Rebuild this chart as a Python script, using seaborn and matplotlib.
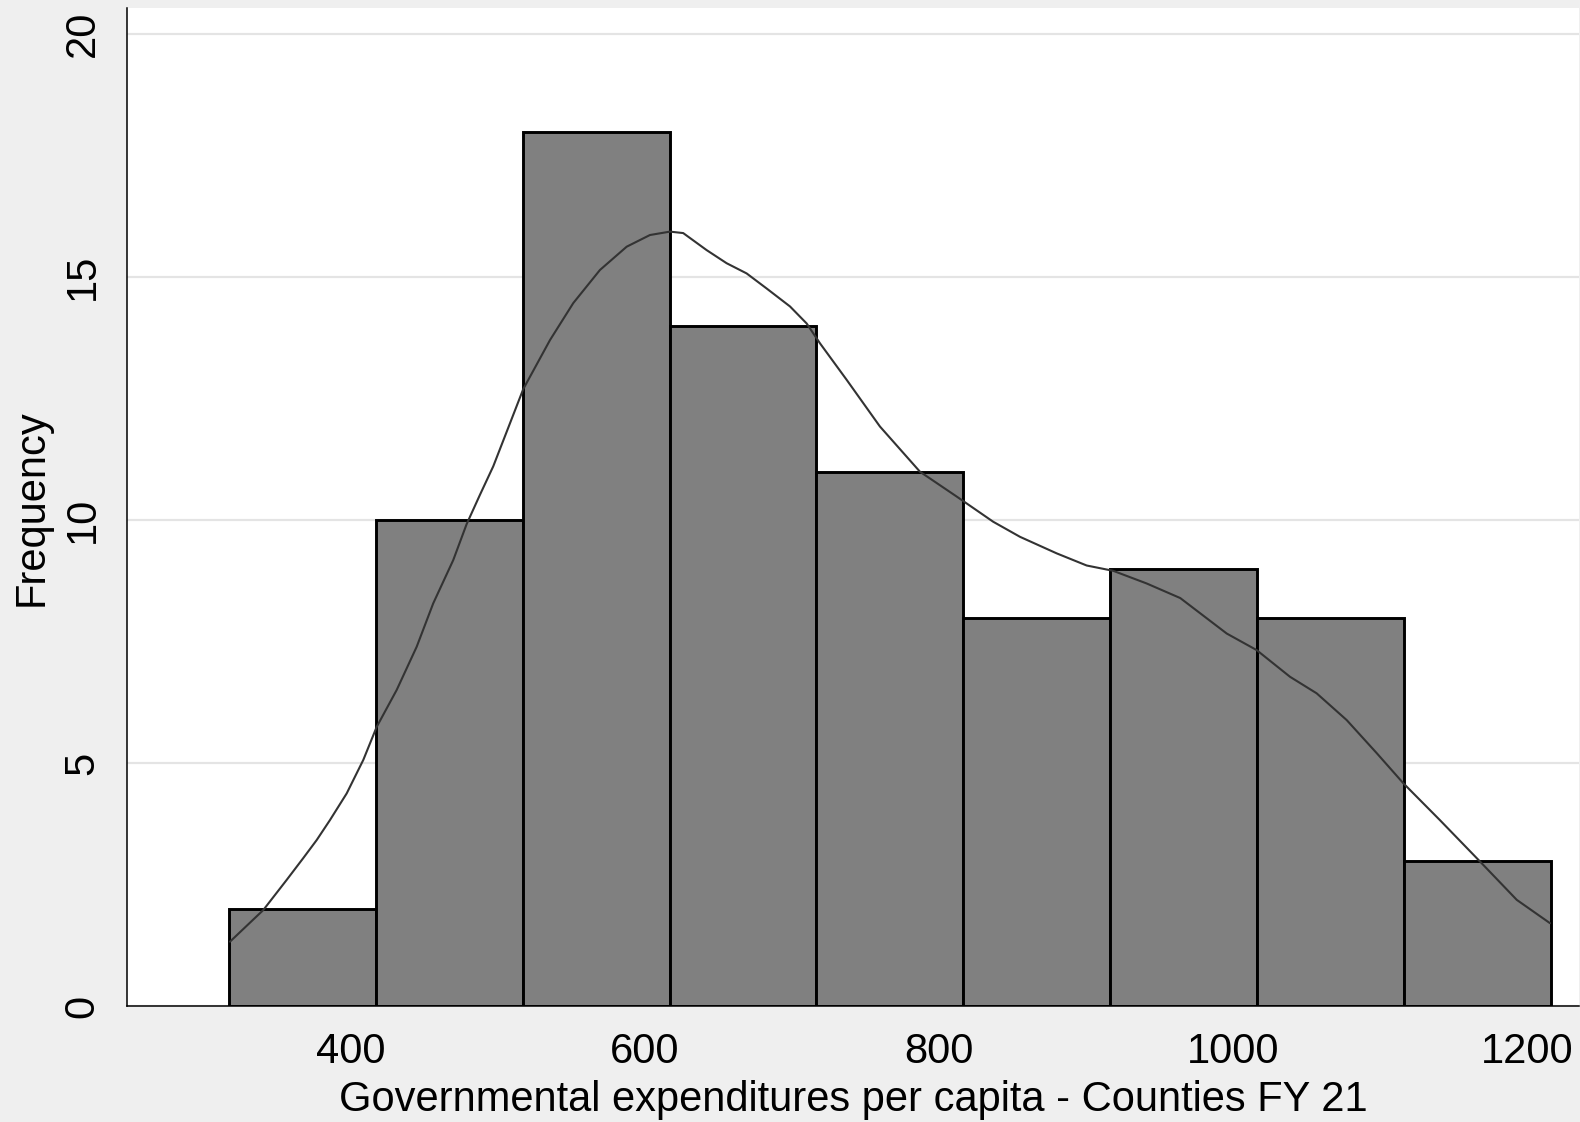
import numpy as np
import pandas as pd
import matplotlib
matplotlib.use("Agg")
import matplotlib.pyplot as plt
import seaborn as sns

# ---- data ----
bin_edges = [317.5, 417.3, 517.1, 616.9, 716.7, 816.5, 916.3, 1016.1, 1115.9, 1215.7]
counts = [2, 10, 18, 14, 11, 8, 9, 8, 3]

kde_x = [318.2, 340.8, 356.7, 368.0, 377.1, 386.1, 397.5, 408.8, 417.9, 431.5,
         445.1, 456.3, 469.9, 479.0, 488.0, 497.1, 507.5, 517.5, 535.7, 551.5,
         569.6, 587.8, 603.6, 617.2, 626.2, 642.1, 655.7, 669.3, 682.9, 698.8,
         710.1, 719.2, 737.3, 759.9, 787.1, 812.0, 836.9, 855.1, 880.0, 900.4,
         918.5, 941.2, 964.0, 995.6, 1015.9, 1038.6, 1056.7, 1077.1, 1097.5, 1115.6,
         1140.5, 1167.7, 1192.7, 1215.3]
kde_y = [1.33, 1.98, 2.60, 3.05, 3.42, 3.83, 4.38, 5.07, 5.75, 6.51,
         7.40, 8.29, 9.18, 9.92, 10.52, 11.11, 11.92, 12.70, 13.71, 14.47,
         15.15, 15.63, 15.87, 15.94, 15.91, 15.56, 15.29, 15.08, 14.77, 14.40,
         14.05, 13.64, 12.89, 11.93, 11.00, 10.49, 9.97, 9.66, 9.32, 9.07,
         8.96, 8.70, 8.40, 7.67, 7.33, 6.78, 6.44, 5.89, 5.21, 4.59,
         3.83, 2.98, 2.19, 1.71]

x_ticks = [400, 600, 800, 1000, 1200]
y_ticks = [0, 5, 10, 15, 20]
x_label = "Governmental expenditures per capita - Counties FY 21"
y_label = "Frequency"

# ---- styling ----
sns.set_style("white")
plt.rcParams["font.family"] = ["Liberation Sans", "DejaVu Sans"]
plt.rcParams["axes.linewidth"] = 1.1

bg = "#efefef"
fig = plt.figure(figsize=(15.8, 11.22), dpi=100, facecolor=bg)
ax = fig.add_axes([127 / 1580, 1 - 1006.3 / 1122, (1579 - 127) / 1580, (1006.3 - 8.3) / 1122])
ax.set_facecolor("white")

centers = [(a + b) / 2 for a, b in zip(bin_edges[:-1], bin_edges[1:])]
hist_df = pd.DataFrame({"value": centers, "count": counts})
sns.histplot(data=hist_df, x="value", weights="count", bins=bin_edges,
             color="#808080", edgecolor="black", linewidth=2.1, alpha=1.0, ax=ax, zorder=2)

kde_df = pd.DataFrame({"x": kde_x, "y": kde_y})
line_ax = sns.lineplot(data=kde_df, x="x", y="y", color="#333333", linewidth=1.5, ax=ax,
                       zorder=3, sort=False)
for ln in ax.get_lines():
    ln.set_solid_joinstyle("round")
    ln.set_antialiased(True)

ax.set_xlim(248.2, 1235)
ax.set_ylim(0, 20.535)
ax.set_xticks(x_ticks)
ax.set_yticks(y_ticks)
ax.set_xticklabels([str(t) for t in x_ticks])
ax.set_yticklabels([str(t) for t in y_ticks], rotation=90, va="center")

ax.yaxis.grid(True, color="#e4e4e4", linewidth=1.6, zorder=0)
ax.xaxis.grid(False)
ax.set_axisbelow(True)

for s in ["top", "right"]:
    ax.spines[s].set_visible(False)
for s in ["left", "bottom"]:
    ax.spines[s].set_color("black")
    ax.spines[s].set_linewidth(1.1)

ax.tick_params(axis="both", which="major", direction="out", length=11.5, width=1.1,
               color="black", labelsize=30, labelcolor="black")
ax.tick_params(axis="x", pad=7)
ax.tick_params(axis="y", pad=6)

ax.set_xlabel(x_label, fontsize=30, color="black")
ax.set_ylabel(y_label, fontsize=30, color="black")
ax.xaxis.set_label_coords(0.5, -0.0935)
ax.xaxis.label.set_va("center")
ax.yaxis.set_label_coords(-0.0654, 0.5)
ax.yaxis.label.set_va("center")

fig.savefig("out.png", dpi=100, facecolor=bg)
